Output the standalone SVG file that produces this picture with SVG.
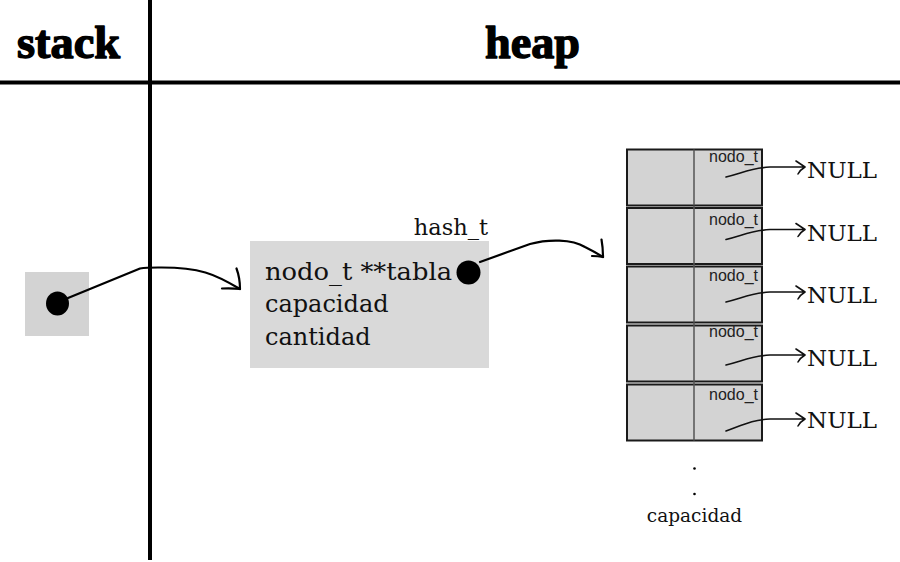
<svg xmlns="http://www.w3.org/2000/svg" width="900" height="562" viewBox="0 0 900 562">
<defs>
<style>
.title{font-family:"Liberation Serif","DejaVu Serif",serif;font-weight:bold;font-size:46px;fill:#000;stroke:#000;stroke-width:1.4;stroke-linejoin:round}
.serif{font-family:"DejaVu Serif","Liberation Serif",serif;font-size:24px;fill:#111}
.label{font-family:"DejaVu Serif","Liberation Serif",serif;font-size:22.5px;fill:#111}
.foot{font-family:"DejaVu Serif","Liberation Serif",serif;font-size:18.5px;fill:#111}
.null{font-family:"DejaVu Serif","Liberation Serif",serif;font-size:23px;fill:#111}
.small{font-family:"Liberation Sans","DejaVu Sans",sans-serif;font-size:16px;fill:#222}
.bucket{fill:#d3d3d3;stroke:#1a1a1a;stroke-width:2}
.div{stroke:#555;stroke-width:1.5}
.wire{fill:none;stroke:#000;stroke-width:2.2;stroke-linecap:round;stroke-linejoin:round}
.thin{fill:none;stroke:#111;stroke-width:1.6;stroke-linecap:round;stroke-linejoin:round}
.frame{stroke:#000;stroke-width:4}
</style>
</defs>
<rect width="900" height="562" fill="#fff"/>

<g id="frame">
<line class="frame" x1="150" y1="0" x2="150" y2="560"/>
<line class="frame" x1="0" y1="82.5" x2="900" y2="82.5"/>
<text class="title" x="17" y="58" textLength="103" lengthAdjust="spacingAndGlyphs">stack</text>
<text class="title" x="485" y="58" textLength="95" lengthAdjust="spacingAndGlyphs">heap</text>
</g>

<g id="stack-var">
<rect x="25" y="272" width="64" height="64" fill="#d3d3d3"/>
<ellipse cx="57.5" cy="303.5" rx="11.5" ry="12" fill="#000"/>
</g>

<g id="hash_t">
<text class="label" x="488" y="235" text-anchor="end">hash_t</text>
<rect x="250" y="241" width="239" height="127" fill="#d9d9d9"/>
<text class="serif" x="265" y="280" textLength="187" lengthAdjust="spacingAndGlyphs">nodo_t **tabla</text>
<text class="serif" x="265" y="312">capacidad</text>
<text class="serif" x="265" y="345">cantidad</text>
<ellipse cx="468.5" cy="272.5" rx="12" ry="12" fill="#000"/>
</g>

<g id="tabla">
<g id="bucket-0">
<rect class="bucket" x="627" y="149.5" width="135" height="56"/>
<line class="div" x1="694" y1="149.5" x2="694" y2="205.5"/>
<text class="small" x="758" y="162" text-anchor="end">nodo_t</text>
</g>
<g id="bucket-1">
<rect class="bucket" x="627" y="208" width="135" height="56"/>
<line class="div" x1="694" y1="206" x2="694" y2="264"/>
<text class="small" x="758" y="225" text-anchor="end">nodo_t</text>
</g>
<g id="bucket-2">
<rect class="bucket" x="627" y="266.5" width="135" height="56"/>
<line class="div" x1="694" y1="264" x2="694" y2="322.5"/>
<text class="small" x="758" y="281" text-anchor="end">nodo_t</text>
</g>
<g id="bucket-3">
<rect class="bucket" x="627" y="325.5" width="135" height="56"/>
<line class="div" x1="694" y1="322.5" x2="694" y2="381.5"/>
<text class="small" x="758" y="337" text-anchor="end">nodo_t</text>
</g>
<g id="bucket-4">
<rect class="bucket" x="627" y="384.5" width="135" height="56"/>
<line class="div" x1="694" y1="381.5" x2="694" y2="440.5"/>
<text class="small" x="758" y="400" text-anchor="end">nodo_t</text>
</g>
<circle cx="694.5" cy="468.5" r="1.3" fill="#000"/>
<circle cx="694.5" cy="494" r="1.3" fill="#000"/>
<text class="foot" x="694.5" y="522" text-anchor="middle">capacidad</text>
</g>

<g id="nulls">
<text class="null" x="807" y="178">NULL</text>
<text class="null" x="807" y="240.5">NULL</text>
<text class="null" x="807" y="303">NULL</text>
<text class="null" x="807" y="366">NULL</text>
<text class="null" x="807" y="428">NULL</text>
</g>

<g id="connectors">
<path class="wire" d="M68,298 L140,268.5 Q146,267.5 158,267.5 C200,267 215,274 240,289"/>
<path class="wire" d="M236.5,268.5 Q240,278 240,289 M222,288.5 Q232,288 240,289"/>
<path class="wire" d="M480,262 L530,244 C548,239 572,239 585,247 Q595,252 603,257"/>
<path class="wire" d="M601.5,239.5 Q603,248 603,257 M592,256 Q598,256 603,257"/>
<path class="thin" d="M726,177 C745,172 752,168 770,167 L805,167 M796,161 L805,167 Q800,170 798,174"/>
<path class="thin" d="M726,239.5 C745,234.5 752,230.5 770,229.5 L805,229.5 M796,223.5 L805,229.5 Q800,232.5 798,236.5"/>
<path class="thin" d="M726,302 C745,297 752,293 770,292 L805,292 M796,286 L805,292 Q800,295 798,299"/>
<path class="thin" d="M726,365 C745,360 752,356 770,355 L805,355 M796,349 L805,355 Q800,358 798,362"/>
<path class="thin" d="M726,431 C745,424 752,420 770,419 L805,419 M796,413 L805,419 Q800,422 798,426"/>
</g>
</svg>
